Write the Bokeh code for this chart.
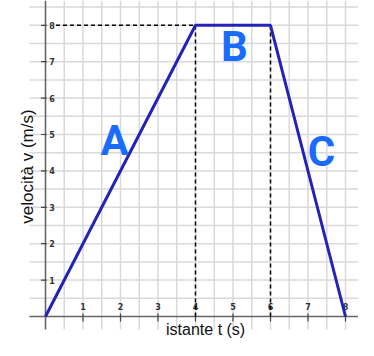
import numpy as np
from bokeh.plotting import figure
from bokeh.core.properties import value
from bokeh.embed import file_html
from bokeh.resources import INLINE

# ---- data ----
t_points = [0, 4, 6, 8]          # istante t (s)
v_points = [0, 8, 8, 0]          # velocità v (m/s)
x_ticks = [1, 2, 3, 4, 5, 6, 7, 8]
y_ticks = [1, 2, 3, 4, 5, 6, 7, 8]
x_tick_labels = [str(i) for i in x_ticks]
y_tick_labels = [str(i) for i in y_ticks]
segment_names = ["A", "B", "C"]
segment_label_x = [1.84, 5.04, 7.36]
segment_label_y = [4.84, 7.43, 4.52]
x_title = "istante t (s)"
y_title = "velocità v (m/s)"

W, H = 358, 340
px_x = 37.5
px_y = 36.4
x0 = -45 / px_x
x1 = x0 + W / px_x
y1 = 316 / px_y
y0 = y1 - H / px_y

p = figure(width=W, height=H, x_range=(x0, x1), y_range=(y0, y1),
           toolbar_location=None, output_backend="svg", min_border=0)
p.axis.visible = False
p.grid.visible = False
p.outline_line_color = None
p.background_fill_color = "white"
p.border_fill_color = "white"

grid_color = "#d9d9d9"
grid_left = -0.43
grid_bottom = -0.36

# grid lines every 0.5
gx = np.arange(0.5, 8.6, 0.5)
p.segment(x0=gx, y0=grid_bottom, x1=gx, y1=y1, line_color=grid_color, line_width=1.5)
gy = np.arange(0.5, 8.6, 0.5)
p.segment(x0=grid_left, y0=gy, x1=x1, y1=gy, line_color=grid_color, line_width=1.5)

# axes
axis_color = "#666666"
p.segment(x0=[0], y0=[grid_bottom], x1=[0], y1=[y1], line_color=axis_color, line_width=1.6)
p.segment(x0=[grid_left], y0=[0], x1=[x1], y1=[0], line_color=axis_color, line_width=1.6)

# tick marks
p.segment(x0=-0.12, y0=y_ticks, x1=0.03, y1=y_ticks, line_color="#444444", line_width=1.2)
p.segment(x0=x_ticks, y0=-0.14, x1=x_ticks, y1=0.08, line_color="#444444", line_width=1.2)

# tick labels
p.text(x=[0.1] * len(y_ticks), y=y_ticks, text=y_tick_labels,
       text_font=value("DejaVu Sans"), text_font_style="bold",
       text_font_size="8px", text_color="#333333",
       text_align="left", text_baseline="middle")
p.text(x=x_ticks, y=[0.27] * len(x_ticks), text=x_tick_labels,
       text_font=value("DejaVu Sans"), text_font_style="bold",
       text_font_size="8px", text_color="#333333",
       text_align="center", text_baseline="middle")

# dashed guide lines
p.segment(x0=[0.28, t_points[1], t_points[2]],
          y0=[v_points[1], 0, 0],
          x1=[t_points[1], t_points[1], t_points[2]],
          y1=[v_points[1], v_points[1], v_points[2]],
          line_color="black", line_width=1.5, line_dash="4 3")

# velocity line
p.line(t_points, v_points, line_color="#2323b8", line_width=3)

# segment labels
p.text(x=segment_label_x, y=segment_label_y, text=segment_names,
       text_font=value("Roboto"), text_font_style="bold",
       text_font_size="42px", text_color="#1a6cff",
       text_align="center", text_baseline="middle")

# axis titles
p.text(x=[4.27], y=[-0.357], text=[x_title],
       text_font=value("Liberation Sans"), text_font_size="16px",
       text_color="#111111", text_align="center", text_baseline="middle")
p.text(x=[-0.48], y=[4.12], text=[y_title], angle=np.pi / 2,
       text_font=value("Liberation Sans"), text_font_size="17px",
       text_color="#111111", text_align="center", text_baseline="middle")

open("out.html", "w").write(file_html(p, INLINE))
